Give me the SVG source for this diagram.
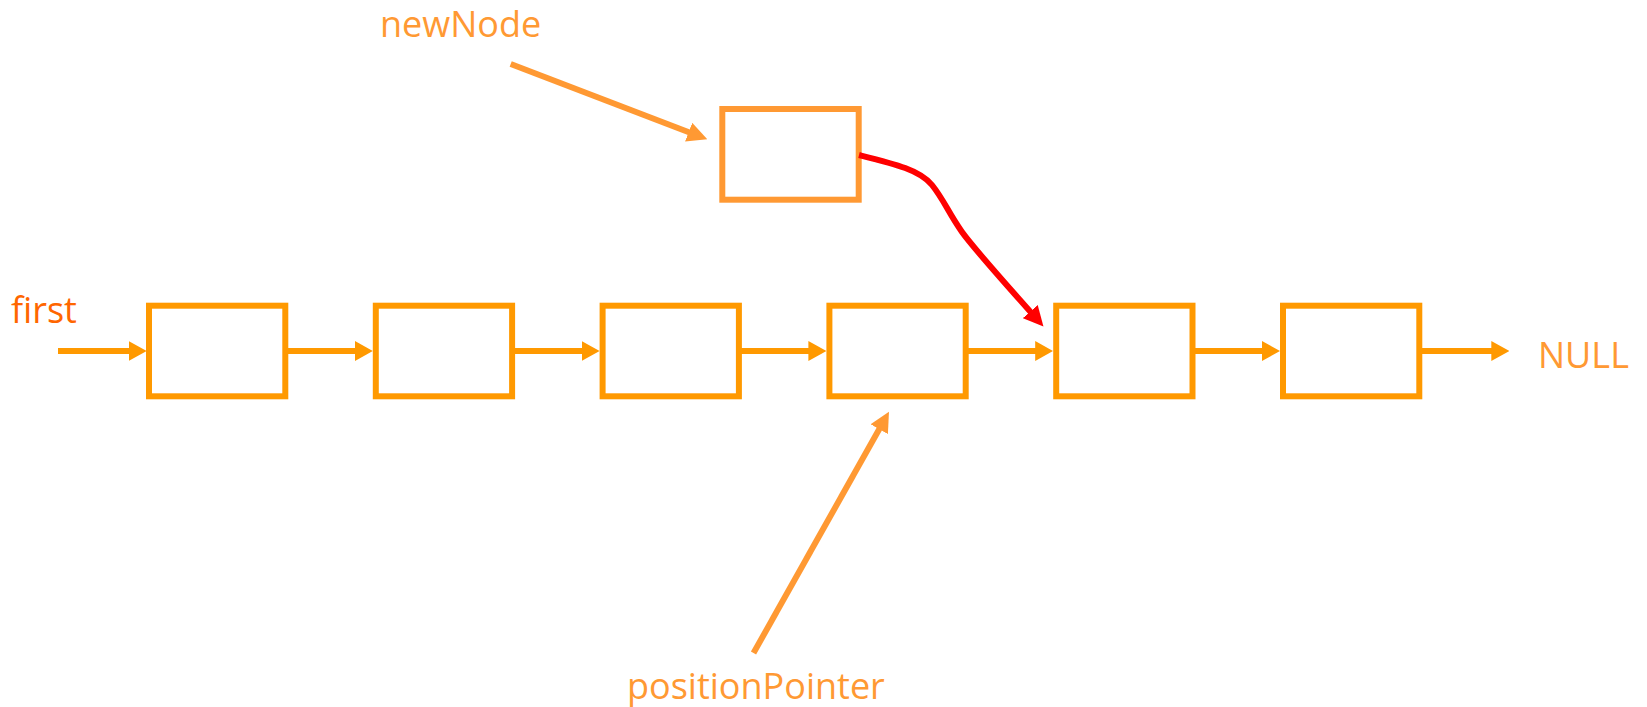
<svg xmlns="http://www.w3.org/2000/svg" width="1647" height="707" viewBox="0 0 1647 707">
  <style>
    .node { fill: #FFFFFF; stroke: #FF9900; stroke-width: 6; }
    .node-new { fill: #FFFFFF; stroke: #FF9933; stroke-width: 6; }
    .link { fill: none; stroke: #FF9900; stroke-width: 6; marker-end: url(#head-link); }
    .ptr { fill: none; stroke: #FF9933; stroke-width: 6; marker-end: url(#head-ptr); }
    .insert { fill: none; stroke: #FF0000; stroke-width: 6; marker-end: url(#head-insert); }
    .label { font-family: "Open Sans", "Noto Sans", "Liberation Sans", sans-serif; font-size: 36px; fill: #FF9933; }
    .label-head { fill: #FF6600; }
  </style>
  <defs>
    <marker id="head-link" markerUnits="userSpaceOnUse" markerWidth="18" markerHeight="20" refX="6" refY="10" orient="auto" viewBox="0 0 18 20">
      <path d="M0,0 L18,10 L0,20 Z" fill="#FF9900"/>
    </marker>
    <marker id="head-ptr" markerUnits="userSpaceOnUse" markerWidth="20" markerHeight="20" refX="8" refY="10" orient="auto" viewBox="0 0 20 20">
      <path d="M0,0 L20,10 L0,20 Z" fill="#FF9933"/>
    </marker>
    <marker id="head-insert" markerUnits="userSpaceOnUse" markerWidth="20" markerHeight="20" refX="8" refY="10" orient="auto" viewBox="0 0 20 20">
      <path d="M0,0 L20,10 L0,20 Z" fill="#FF0000"/>
    </marker>
  </defs>

  <!-- list nodes -->
  <g id="node-1"><rect class="node" x="149" y="305.7" width="136.3" height="90.6"/></g>
  <g id="node-2"><rect class="node" x="375.8" y="305.7" width="136.3" height="90.6"/></g>
  <g id="node-3"><rect class="node" x="602.6" y="305.7" width="136.3" height="90.6"/></g>
  <g id="node-4"><rect class="node" x="829.4" y="305.7" width="136.3" height="90.6"/></g>
  <g id="node-5"><rect class="node" x="1056.2" y="305.7" width="136.3" height="90.6"/></g>
  <g id="node-6"><rect class="node" x="1283" y="305.7" width="136.3" height="90.6"/></g>

  <!-- node being inserted -->
  <g id="new-node"><rect class="node-new" x="722.3" y="109" width="136.4" height="90.7"/></g>

  <!-- labels -->
  <g id="label-first"><text class="label label-head" x="11" y="323">first</text></g>
  <g id="label-newNode"><text class="label" x="380" y="37">newNode</text></g>
  <g id="label-NULL"><text class="label" x="1538" y="368">NULL</text></g>
  <g id="label-positionPointer"><text class="label" x="627" y="699">positionPointer</text></g>

  <!-- connectors -->
  <g id="connectors">
    <line class="link" x1="58" y1="351" x2="134.7" y2="351"/>
    <line class="link" x1="285.3" y1="351" x2="360.8" y2="351"/>
    <line class="link" x1="512.1" y1="351" x2="587.6" y2="351"/>
    <line class="link" x1="738.9" y1="351" x2="814.4" y2="351"/>
    <line class="link" x1="965.7" y1="351" x2="1041.2" y2="351"/>
    <line class="link" x1="1192.5" y1="351" x2="1268" y2="351"/>
    <line class="link" x1="1419.3" y1="351" x2="1497.3" y2="351"/>
    <line class="ptr" x1="510.7" y1="64" x2="696.1" y2="135"/>
    <line class="ptr" x1="753.5" y1="653" x2="883.1" y2="422.2"/>
    <path class="insert" d="M859,155 C895,164 920,170 932,185 C944,200 948,212 962,232 C975,250 1005,283 1035.5,317.6"/>
  </g>
</svg>
